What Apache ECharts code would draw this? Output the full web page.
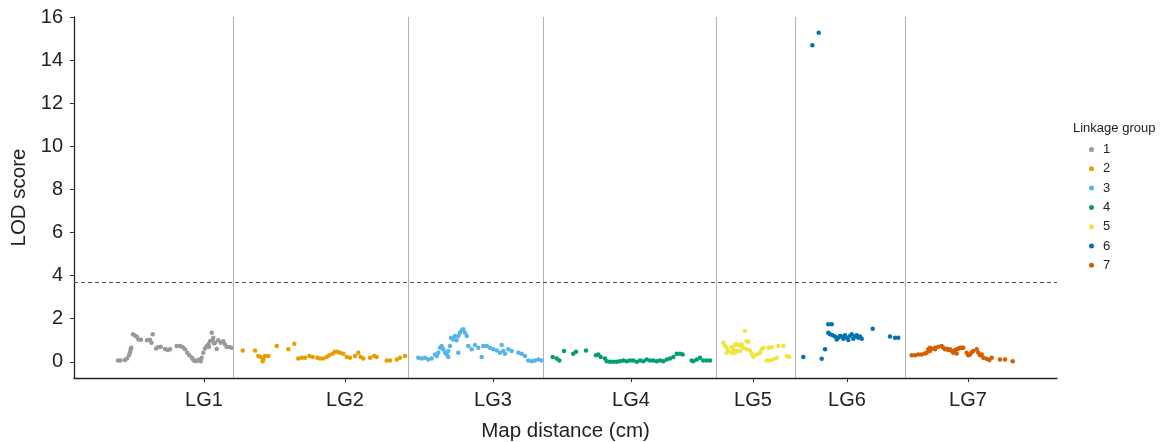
<!DOCTYPE html>
<html><head><meta charset="utf-8">
<script src="https://cdn.jsdelivr.net/npm/echarts@6/dist/echarts.min.js"></script>
<style>html,body{margin:0;padding:0;background:#fff}#c{width:1163px;height:442px}</style>
</head><body><div id="c"></div>
<script>
// Map position (cumulative cM) and LOD score for each linkage group
const lg1 = [[44,0.06],[46.5,0.06],[51,0.08],[53,0.16],[55,0.3],[56,0.45],[56.7,0.58],[57.3,0.65],[59,1.28],[61,1.22],[63,1.15],[64.5,1.04],[67,1.02],[73,1.0],[76,1.02],[78.7,1.28],[77.5,0.88],[82,0.62],[84,0.68],[86.7,0.7],[91,0.6],[93.7,0.55],[96,0.58],[102.7,0.73],[106,0.73],[108.7,0.69],[111,0.58],[113.3,0.42],[115.3,0.3],[117.7,0.2],[119,0.12],[120,0.06],[122,0.03],[124.3,0.1],[125.5,0.06],[126.7,0.03],[127.7,0.19],[129.3,0.42],[131,0.62],[132.7,0.73],[134.3,0.81],[135,0.7],[136,0.96],[137.7,1.35],[138.5,1.0],[139.3,1.12],[140,0.85],[141,0.89],[142.7,0.6],[144.3,1.0],[146.7,0.89],[149.3,0.96],[151,0.81],[152.7,0.69],[155.3,0.69],[157.7,0.65]];
const lg2 = [[168.7,0.53],[181,0.53],[184.3,0.27],[186.7,0.22],[189.3,0.11],[188.7,0.03],[191,0.27],[194.3,0.27],[202.7,0.73],[214.3,0.58],[220.3,0.84],[224.3,0.16],[227.7,0.19],[231,0.19],[235.3,0.27],[238.7,0.22],[243.3,0.19],[246,0.16],[249.3,0.16],[252.7,0.22],[255.3,0.31],[258.7,0.37],[261,0.47],[263.3,0.47],[266,0.42],[269.3,0.37],[272.7,0.22],[276,0.19],[281,0.27],[284.3,0.42],[286.7,0.22],[289.3,0.16],[296,0.19],[300,0.27],[302.7,0.22],[312.7,0.06],[316,0.06],[322.7,0.11],[326,0.19],[331,0.27]];
const lg3 = [[344.3,0.19],[347.7,0.16],[351,0.19],[354.3,0.11],[357.7,0.16],[361,0.34],[362.7,0.27],[364.3,0.42],[366,0.65],[367.7,0.73],[369.3,0.58],[371,0.42],[372.7,0.34],[374.3,0.5],[374.3,0.22],[376,0.73],[377,1.12],[379.3,1.04],[381,1.2],[382.7,1.0],[384.3,1.2],[384.3,0.42],[386,1.35],[387.7,1.46],[389.3,1.51],[391,1.35],[392.7,1.2],[394.3,0.73],[397.7,0.58],[401,0.78],[404.3,0.65],[407.7,0.22],[409.3,0.73],[412.7,0.73],[416,0.65],[419.3,0.58],[422.7,0.53],[426,0.42],[427.7,0.78],[429.3,0.5],[431,0.37],[434.3,0.58],[437.7,0.5],[444.3,0.42],[447.7,0.37],[451,0.27],[454.3,0.06],[457.7,0.03],[461,0.06],[464.3,0.11],[467.7,0.06]];
const lg4 = [[478.7,0.22],[482.7,0.16],[485.3,0.06],[490,0.5],[499.3,0.37],[502,0.47],[512,0.53],[522,0.31],[524.3,0.34],[526.7,0.22],[531,0.16],[532.7,0.03],[536,0.0],[539.3,0.0],[542.7,0.0],[546,0.03],[549.3,0.06],[552.7,0.03],[556,0.06],[559.3,0.06],[562.7,0.0],[566,0.06],[569.3,0.03],[572.7,0.11],[576,0.06],[579.3,0.06],[582.7,0.03],[586,0.06],[589.3,0.03],[592.7,0.11],[596,0.16],[599.3,0.22],[602.7,0.37],[606,0.37],[608.7,0.34],[617.7,0.06],[619.3,0.03],[622.7,0.11],[626,0.19],[629.3,0.06],[632.7,0.06],[636,0.06]];
const lg5 = [[649.3,0.89],[651,0.73],[652.7,0.65],[652.7,0.42],[654.3,0.5],[657.7,0.68],[657.7,0.42],[659.3,0.58],[661,0.78],[661,0.42],[662.7,0.84],[662.7,0.5],[664.3,0.78],[666,0.73],[666,0.5],[667.7,0.81],[669.3,0.65],[671,1.43],[672.7,0.96],[672.7,0.58],[674.3,0.93],[676,0.53],[677.7,0.37],[679.3,0.22],[682.7,0.34],[686,0.42],[687.7,0.58],[689.3,0.65],[692.7,0.06],[694.3,0.65],[696,0.06],[697.7,0.68],[699.3,0.11],[702.7,0.19],[704.3,0.73],[709.3,0.73],[712.7,0.27],[715.3,0.22]];
const lg6 = [[729.3,0.23],[738.3,14.69],[744.7,15.27],[747.7,0.14],[751,0.58],[754.3,1.74],[757.7,1.74],[754.3,1.35],[756,1.28],[758.7,1.23],[761,1.17],[762.7,1.04],[764.3,1.12],[766,1.2],[767.7,1.17],[769.3,1.07],[771,1.23],[772.7,1.12],[774.3,1.01],[776,1.2],[777.7,1.28],[779.3,1.07],[781,1.17],[782.7,1.23],[784.3,1.12],[786,1.17],[787.7,1.07],[798.7,1.54],[816,1.17],[821,1.12],[824.3,1.12]];
const lg7 = [[837.7,0.3],[841,0.3],[844.3,0.34],[847.7,0.34],[851,0.39],[852.7,0.42],[854.3,0.58],[856,0.65],[856,0.5],[857.7,0.61],[861,0.65],[861,0.58],[864.3,0.7],[867.7,0.73],[869.3,0.65],[871,0.58],[872.7,0.61],[874.3,0.55],[876,0.58],[877.7,0.5],[879.3,0.42],[881,0.55],[882.7,0.58],[882.7,0.39],[884.3,0.61],[886,0.65],[887.7,0.65],[889.3,0.65],[892.7,0.42],[894.3,0.3],[896,0.34],[897.7,0.45],[899.3,0.5],[902.7,0.58],[904.3,0.42],[906,0.3],[907.7,0.34],[909.3,0.19],[912.7,0.14],[915.3,0.08],[917.7,0.19],[926,0.11],[931,0.11],[938.7,0.03]];

const groupNames = ['1','2','3','4','5','6','7'];
const groupColors = ['#999999','#E69F00','#56B4E9','#009E73','#F0E442','#0072B2','#D55E00'];
const tickLabels = ['LG1','LG2','LG3','LG4','LG5','LG6','LG7'];
const tickPositions = [130, 271, 419, 557, 679, 773, 894];
const boundaries = [159, 334, 469, 642, 721, 831];
const threshold = 3.7;
const yTicks = [0,2,4,6,8,10,12,14,16];

const groups = [lg1, lg2, lg3, lg4, lg5, lg6, lg7];
const font = 'Liberation Sans, Arial, sans-serif';

const series = groups.map((d, i) => ({
  name: groupNames[i], type: 'scatter', data: d, symbolSize: 4.5,
  itemStyle: { color: groupColors[i], opacity: 1 }, z: 3
}));
series.push({
  name: 'refs', type: 'scatter', data: [], silent: true,
  markLine: {
    silent: true, symbol: 'none', animation: false,
    label: { show: false },
    data: boundaries.map(b => ({ xAxis: b, lineStyle: { color: '#b3b3b3', width: 1, type: 'solid' } }))
      .concat([{ yAxis: threshold, lineStyle: { color: '#555555', width: 1, type: [4, 3] } }])
  }
});

const chart = echarts.init(document.getElementById('c'), null, { renderer: 'canvas' });
chart.setOption({
  animation: false,
  backgroundColor: '#ffffff',
  textStyle: { fontFamily: font },
  grid: { left: 74, right: 106, top: 17, bottom: 64, containLabel: false, outerBoundsMode: 'none' },
  xAxis: {
    type: 'value', min: 0, max: 983,
    name: 'Map distance (cm)', nameLocation: 'middle', nameGap: 43,
    nameTextStyle: { fontSize: 20.5, color: '#222', fontFamily: font },
    axisLine: { show: true, onZero: false, lineStyle: { color: '#222', width: 1.3 } },
    axisTick: { show: true, length: 4, customValues: tickPositions, lineStyle: { color: '#333' } },
    axisLabel: { customValues: tickPositions, fontSize: 20, color: '#222', margin: 12,
      formatter: v => { const k = tickPositions.indexOf(v); return k >= 0 ? tickLabels[k] : ''; } },
    splitLine: { show: false }
  },
  yAxis: {
    type: 'value', min: -0.75, max: 16,
    name: 'LOD score', nameLocation: 'middle', nameGap: 38,
    nameTextStyle: { fontSize: 20.5, color: '#222', fontFamily: font },
    axisLine: { show: true, onZero: false, lineStyle: { color: '#222', width: 1.3 } },
    axisTick: { show: true, length: 4, customValues: yTicks, lineStyle: { color: '#333' } },
    axisLabel: { customValues: yTicks, fontSize: 20, color: '#222', margin: 11 },
    splitLine: { show: false }
  },
  legend: {
    data: groupNames, orient: 'vertical', left: 1084, top: 138,
    icon: 'circle', itemWidth: 5, itemHeight: 5, itemGap: 6.3,
    textStyle: { fontSize: 13, color: '#222', fontFamily: font, padding: [0,0,0,4] }
  },
  title: {
    text: 'Linkage group', left: 1073, top: 122, padding: 0,
    textStyle: { fontSize: 13, fontWeight: 'normal', color: '#222', fontFamily: font }
  },
  series: series
});
</script></body></html>
